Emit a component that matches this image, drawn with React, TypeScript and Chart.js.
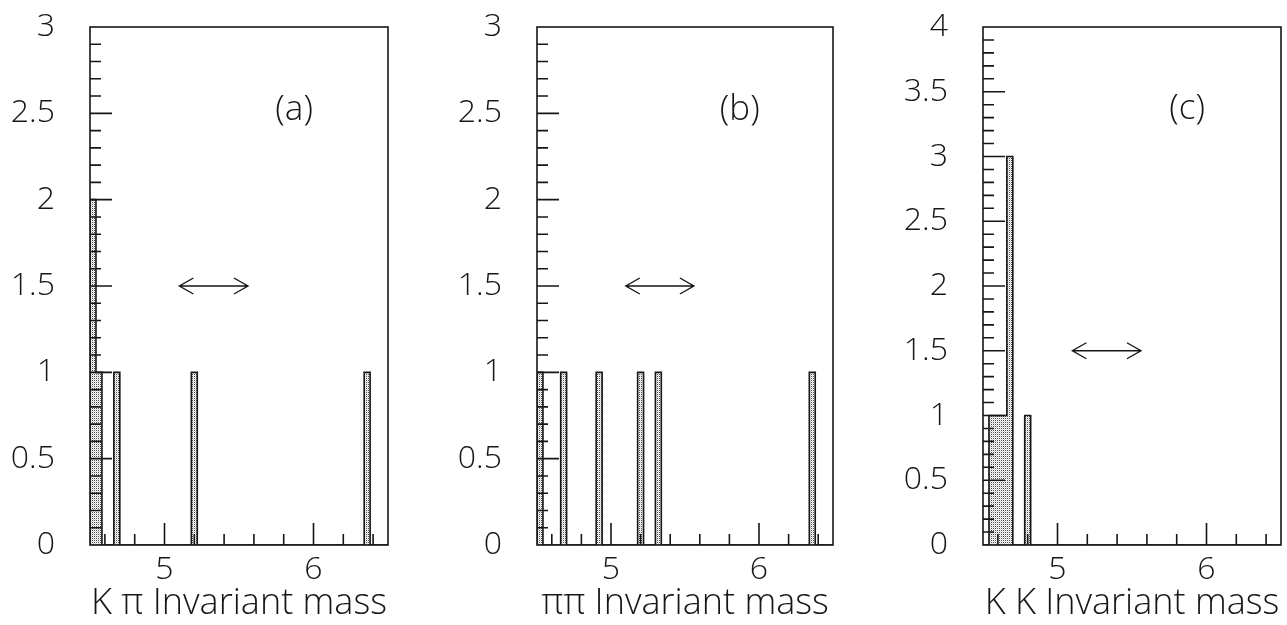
import React, { useEffect, useRef } from 'react';
import { Chart, registerables } from 'chart.js';

Chart.register(...registerables);

// ---------- binning (0.04 wide bins from 4.5 to 6.5) ----------
const BIN_START = 4.5;
const BIN_WIDTH = 0.04;
const BIN_COUNT = 50;
const X_MIN = 4.5;
const X_MAX = 6.5;
const X_MAJOR_TICKS = [5, 6];
const X_MINOR_TICKS = [4.6, 4.8, 5.2, 5.4, 5.6, 5.8, 6.2, 6.4];

// ---------- panel (a): K pi ----------
const KPI_BIN_LOW = [4.5, 4.54, 4.66, 5.18, 6.34];
const KPI_COUNTS = [2, 1, 1, 1, 1];

// ---------- panel (b): pi pi ----------
const PIPI_BIN_LOW = [4.5, 4.66, 4.9, 5.18, 5.3, 6.34];
const PIPI_COUNTS = [1, 1, 1, 1, 1, 1];

// ---------- panel (c): K K ----------
const KK_BIN_LOW = [4.54, 4.58, 4.62, 4.66, 4.78];
const KK_COUNTS = [1, 1, 1, 3, 1];

const Y_MAX = [3, 3, 4];
const Y_MAJOR_STEP = 0.5;
const PANEL_TAGS = ['(a)', '(b)', '(c)'];
const AXIS_TITLES = ['K \u03c0 Invariant mass', '\u03c0\u03c0 Invariant mass', 'K K Invariant mass'];
const ARROW_FROM = 5.1;
const ARROW_TO = 5.56;
const ARROW_LEVEL = 1.5;
const TAG_X = 5.87;
const TAG_Y = [2.52, 2.52, 3.37];

// ---------- layout / style ----------
const PANEL_LEFT = [0, 447, 893];
const PANEL_WIDTH = [420, 420, 394];
const PANEL_RIGHT_PAD = [32, 34, 6];
const HEIGHT = 625;
const INK = '#161616';
const FONT_FAMILY = "'Open Sans', 'DejaVu Sans', sans-serif";
const FONT_SIZE = 32;
const TAG_FONT_SIZE = 35;
const TITLE_FONT_SIZE = 36;

function buildCounts(lows: number[], counts: number[]): number[] {
  const out = new Array(BIN_COUNT).fill(0);
  lows.forEach((low, k) => {
    const idx = Math.round((low - BIN_START) / BIN_WIDTH);
    out[idx] = counts[k];
  });
  return out;
}

function makePattern(): CanvasPattern | string {
  const c = document.createElement('canvas');
  c.width = 2;
  c.height = 2;
  const g = c.getContext('2d');
  if (!g) return '#ccc';
  g.fillStyle = '#ffffff';
  g.fillRect(0, 0, 2, 2);
  g.fillStyle = '#4a4a4a';
  g.fillRect(0, 0, 1, 1);
  g.fillStyle = '#d0d0d0';
  g.fillRect(1, 1, 1, 1);
  return g.createPattern(c, 'repeat') || '#ccc';
}

const decorPlugin = {
  id: 'hbookDecor',
  afterDatasetsDraw(chart: any) {
    const opts = chart.options.plugins.hbookDecor;
    const { ctx, chartArea: a } = chart;
    const x = chart.scales.x;
    const y = chart.scales.y;
    ctx.save();
    ctx.strokeStyle = INK;
    ctx.fillStyle = INK;
    ctx.lineWidth = 1.6;
    ctx.lineCap = 'butt';
    // frame
    ctx.strokeRect(a.left, a.top, a.right - a.left, a.bottom - a.top);
    // y ticks (inside, left)
    const steps = Math.round(opts.ymax * 10);
    ctx.beginPath();
    for (let k = 1; k < steps; k++) {
      const v = k / 10;
      const py = y.getPixelForValue(v);
      const len = k % 5 === 0 ? 22 : 11;
      ctx.moveTo(a.left, py);
      ctx.lineTo(a.left + len, py);
    }
    // x ticks (inside, bottom)
    X_MAJOR_TICKS.forEach((v) => {
      const px = x.getPixelForValue(v);
      ctx.moveTo(px, a.bottom);
      ctx.lineTo(px, a.bottom - 22);
    });
    X_MINOR_TICKS.forEach((v) => {
      const px = x.getPixelForValue(v);
      ctx.moveTo(px, a.bottom);
      ctx.lineTo(px, a.bottom - 11);
    });
    ctx.stroke();
    // double arrow
    const x1 = x.getPixelForValue(ARROW_FROM);
    const x2 = x.getPixelForValue(ARROW_TO);
    const ay = y.getPixelForValue(ARROW_LEVEL);
    ctx.lineWidth = 1.4;
    ctx.beginPath();
    ctx.moveTo(x1, ay);
    ctx.lineTo(x2, ay);
    ctx.moveTo(x1 + 14, ay - 8);
    ctx.lineTo(x1, ay);
    ctx.lineTo(x1 + 14, ay + 8);
    ctx.moveTo(x2 - 14, ay - 8);
    ctx.lineTo(x2, ay);
    ctx.lineTo(x2 - 14, ay + 8);
    ctx.stroke();
    // panel tag
    ctx.font = `300 ${TAG_FONT_SIZE}px ${FONT_FAMILY}`;
    ctx.textAlign = 'center';
    ctx.textBaseline = 'middle';
    ctx.fillText(opts.tag, x.getPixelForValue(TAG_X), y.getPixelForValue(opts.tagY));
    ctx.restore();
  },
};

function Panel({ index }: { index: number }) {
  const ref = useRef<HTMLCanvasElement | null>(null);
  useEffect(() => {
    const canvas = ref.current;
    if (!canvas) return;
    const lows = [KPI_BIN_LOW, PIPI_BIN_LOW, KK_BIN_LOW][index];
    const cnts = [KPI_COUNTS, PIPI_COUNTS, KK_COUNTS][index];
    const counts = buildCounts(lows, cnts);
    const barData = counts.map((c, i) => ({ x: BIN_START + (i + 0.5) * BIN_WIDTH, y: c }));
    const contour: { x: number; y: number }[] = [{ x: BIN_START, y: 0 }];
    counts.forEach((c, i) => contour.push({ x: BIN_START + i * BIN_WIDTH, y: c }));
    contour.push({ x: BIN_START + BIN_COUNT * BIN_WIDTH, y: 0 });
    const font = { family: FONT_FAMILY, size: FONT_SIZE, weight: '300' as any };
    const titleFont = { family: FONT_FAMILY, size: TITLE_FONT_SIZE, weight: '300' as any };
    const chart = new Chart(canvas, {
      type: 'bar',
      data: {
        datasets: [
          {
            type: 'line',
            data: contour,
            stepped: 'before',
            borderColor: INK,
            borderWidth: 1.6,
            pointRadius: 0,
            fill: false,
            order: 1,
          } as any,
          {
            type: 'bar',
            data: barData,
            backgroundColor: makePattern() as any,
            borderWidth: 0,
            barPercentage: 1,
            categoryPercentage: 1,
            order: 2,
          } as any,
        ],
      },
      options: {
        responsive: false,
        animation: false,
        devicePixelRatio: 1,
        layout: { padding: { top: 27, right: PANEL_RIGHT_PAD[index], left: 0, bottom: 0 } },
        plugins: {
          legend: { display: false },
          tooltip: { enabled: false },
          hbookDecor: { ymax: Y_MAX[index], tag: PANEL_TAGS[index], tagY: TAG_Y[index] },
        } as any,
        scales: {
          x: {
            type: 'linear',
            min: X_MIN,
            max: X_MAX,
            offset: false,
            afterBuildTicks: (s: any) => {
              s.ticks = X_MAJOR_TICKS.map((v) => ({ value: v }));
            },
            afterFit: (s: any) => {
              s.height = 80;
              s.paddingLeft = 0;
              s.paddingRight = 0;
            },
            ticks: {
              autoSkip: false,
              maxRotation: 0,
              padding: 6,
              color: INK,
              font,
              callback: (v: any) => String(v),
            },
            title: {
              display: true,
              text: AXIS_TITLES[index],
              color: INK,
              font: titleFont,
              padding: { top: 0, bottom: 0 },
            },
            grid: { display: false, drawTicks: false },
            border: { display: false },
          },
          y: {
            type: 'linear',
            min: 0,
            max: Y_MAX[index],
            afterFit: (s: any) => {
              s.width = 90;
              s.paddingTop = 0;
              s.paddingBottom = 0;
            },
            ticks: {
              stepSize: Y_MAJOR_STEP,
              padding: 35,
              color: INK,
              font,
              callback: (v: any) => String(v),
            },
            grid: { display: false, drawTicks: false },
            border: { display: false },
          },
        },
      },
      plugins: [decorPlugin],
    });
    return () => chart.destroy();
  }, [index]);
  return (
    <canvas
      ref={ref}
      width={PANEL_WIDTH[index]}
      height={HEIGHT}
      style={{ position: 'absolute', left: PANEL_LEFT[index], top: 0, width: PANEL_WIDTH[index], height: HEIGHT }}
    />
  );
}

export default function App() {
  return (
    <div style={{ position: 'fixed', left: 0, top: 0, width: 1287, height: HEIGHT, background: '#fff', overflow: 'hidden' }}>
      <Panel index={0} />
      <Panel index={1} />
      <Panel index={2} />
    </div>
  );
}
